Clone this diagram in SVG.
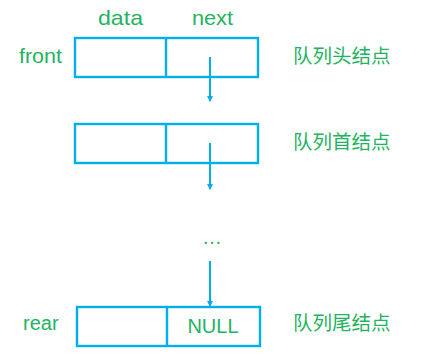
<svg xmlns="http://www.w3.org/2000/svg" width="422" height="355" viewBox="0 0 422 355">
<style>
.box{fill:none;stroke:#00AEEF;stroke-width:2.4}
.t{font-family:"Liberation Sans",Arial,sans-serif;font-size:20px;fill:#22B35E}
.h{font-size:21px}
.cn{font-family:"Noto Sans CJK SC",sans-serif;font-size:19.5px;fill:#22B35E}
.ln{stroke:#00AEEF;stroke-width:2;fill:none}
</style>
<defs>
<marker id="ah" markerWidth="6" markerHeight="6" refX="5" refY="3" orient="auto" markerUnits="userSpaceOnUse">
<path d="M0,0 L6,3 L0,6 z" fill="#00AEEF"/>
</marker>
</defs>
<rect width="422" height="355" fill="#fff"/>
<text class="t h" x="98" y="25" textLength="45" lengthAdjust="spacingAndGlyphs">data</text>
<text class="t h" x="192" y="25" textLength="41" lengthAdjust="spacingAndGlyphs">next</text>
<g id="node1">
<rect class="box" x="75" y="38" width="183" height="39"/>
<line class="box" x1="166" y1="38" x2="166" y2="77"/>
<text class="t" x="19" y="63" textLength="43" lengthAdjust="spacingAndGlyphs">front</text>
<text class="cn" x="293" y="63">队列头结点</text>
</g>
<g id="node2">
<rect class="box" x="75" y="124" width="183" height="39"/>
<line class="box" x1="166" y1="124" x2="166" y2="163"/>
<text class="cn" x="293" y="149">队列首结点</text>
</g>
<g id="ellipsis">
<text class="t" x="212" y="244" text-anchor="middle">…</text>
</g>
<g id="node3">
<rect class="box" x="77" y="307" width="183" height="39"/>
<line class="box" x1="167" y1="307" x2="167" y2="346"/>
<text class="t" x="23" y="330">rear</text>
<text class="t" x="213" y="333" text-anchor="middle">NULL</text>
<text class="cn" x="293" y="330">队列尾结点</text>
</g>
<g id="connectors">
<line class="ln" x1="210" y1="57" x2="210" y2="101" marker-end="url(#ah)"/>
<line class="ln" x1="210" y1="143" x2="210" y2="189" marker-end="url(#ah)"/>
<line class="ln" x1="210" y1="261" x2="210" y2="306" marker-end="url(#ah)"/>
</g>
</svg>
